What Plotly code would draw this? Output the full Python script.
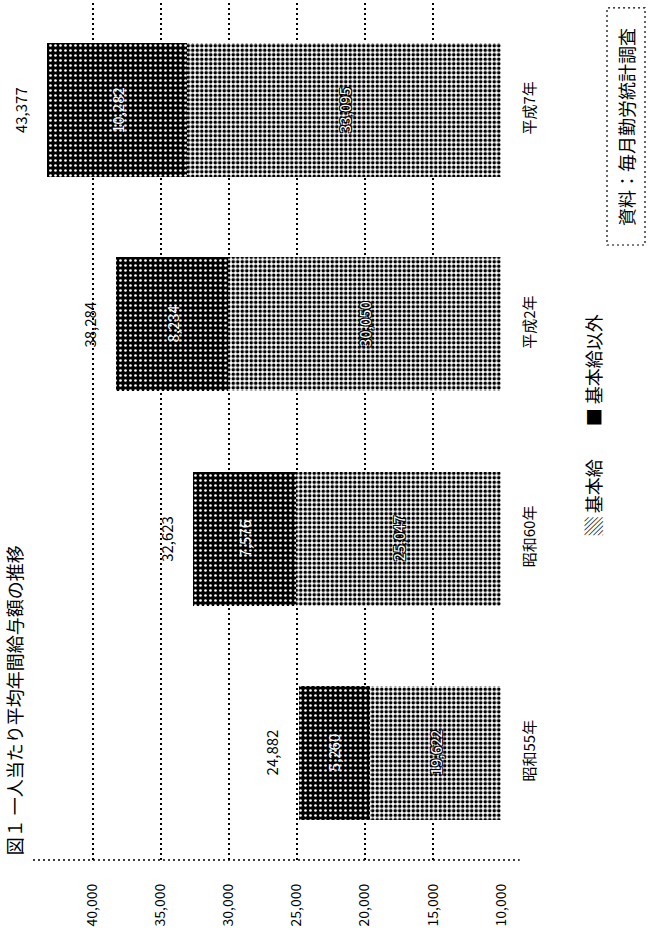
import plotly.graph_objects as go

# Average annual pay per employee, split into base pay and other pay
categories = ["昭和55年", "昭和60年", "平成2年", "平成7年"]
base_pay = [19622, 25047, 30050, 33095]
other_pay = [5260, 7576, 8234, 10282]
tick_vals = [10000, 15000, 20000, 25000, 30000, 35000, 40000]
axis_min, axis_max = 10000, 44400

series_names = ["基本給", "基本給以外"]
title_text = "図１ 一人当たり平均年間給与額の推移"
note_text = "資料：毎月勤労統計調査"

totals = [a + b for a, b in zip(base_pay, other_pay)]
FONT = "Noto Sans CJK JP"

fig = go.Figure()
fig.add_bar(
    y=categories, x=base_pay, orientation="h", name=series_names[0],
    marker=dict(line=dict(width=0),
                pattern=dict(shape=".", bgcolor="white", fgcolor="black",
                             size=4.5, solidity=0.5, fillmode="replace")),
    showlegend=False,
)
fig.add_bar(
    y=categories, x=other_pay, orientation="h", name=series_names[1],
    marker=dict(line=dict(width=0),
                pattern=dict(shape=".", bgcolor="black", fgcolor="white",
                             size=5, solidity=0.22, fillmode="replace")),
    showlegend=False,
)

annotations = []
outline = "1px 1px 0 #000, -1px -1px 0 #000, 1px -1px 0 #000, -1px 1px 0 #000"


def rotated(**kw):
    kw.setdefault("showarrow", False)
    kw.setdefault("textangle", -90)
    kw.setdefault("xanchor", "center")
    kw.setdefault("yanchor", "middle")
    return kw


for cat, b, o, t in zip(categories, base_pay, other_pay, totals):
    # base pay label, centred on the visible part of the segment
    annotations.append(rotated(
        x=(axis_min + b) / 2, y=cat, text=f"{b:,}",
        font=dict(family=FONT, size=15, color="white", shadow=outline)))
    # other pay label inside the dark segment
    annotations.append(rotated(
        x=b + o / 2, y=cat, text=f"{o:,}",
        font=dict(family=FONT, size=15, color="white")))
    # total just beyond the end of the bar
    annotations.append(rotated(
        x=t, y=cat, xshift=-27, text=f"{t:,}",
        font=dict(family=FONT, size=15, color="black")))

# legend, drawn as rotated text
annotations.append(rotated(
    xref="paper", yref="paper", x=1.197, y=0.4236, text="▒ " + series_names[0],
    font=dict(family=FONT, size=18, color="black")))
annotations.append(rotated(
    xref="paper", yref="paper", x=1.197, y=0.5718, text="■ " + series_names[1],
    font=dict(family=FONT, size=18, color="black")))
# source note
annotations.append(rotated(
    xref="paper", yref="paper", x=1.267, y=0.8553, text=note_text,
    font=dict(family=FONT, size=18, color="black")))
# title along the left edge of the page
annotations.append(rotated(
    xref="paper", yref="paper", x=-0.04, y=0.1867, text=title_text,
    font=dict(family=FONT, size=18, color="black")))

shapes = [
    dict(type="line", xref="paper", yref="paper", x0=0, x1=1.04, y0=0, y1=0,
         line=dict(color="black", width=1.5, dash="2px,3px")),
    dict(type="rect", xref="paper", yref="paper", x0=1.2265, x1=1.3077, y0=0.7176, y1=0.9942,
         line=dict(color="black", width=1.2, dash="2px,3px")),
]

fig.update_layout(
    width=648, height=938,
    margin=dict(l=33, r=147, t=3, b=78),
    barmode="stack", bargap=0.374,
    paper_bgcolor="white", plot_bgcolor="white",
    font=dict(family=FONT, color="black"),
    annotations=annotations, shapes=shapes,
    xaxis=dict(
        range=[axis_max, axis_min], tickvals=tick_vals, tickformat=",",
        tickangle=-90, tickfont=dict(size=14), ticklabelstandoff=20,
        showgrid=True, gridcolor="black", griddash="2px,3px", gridwidth=1.5,
        zeroline=False, showline=False,
    ),
    yaxis=dict(
        side="right", tickangle=-90, tickfont=dict(size=15), ticklabelstandoff=18,
        showgrid=False, zeroline=False, showline=False,
    ),
)

fig.write_html("out.html")
